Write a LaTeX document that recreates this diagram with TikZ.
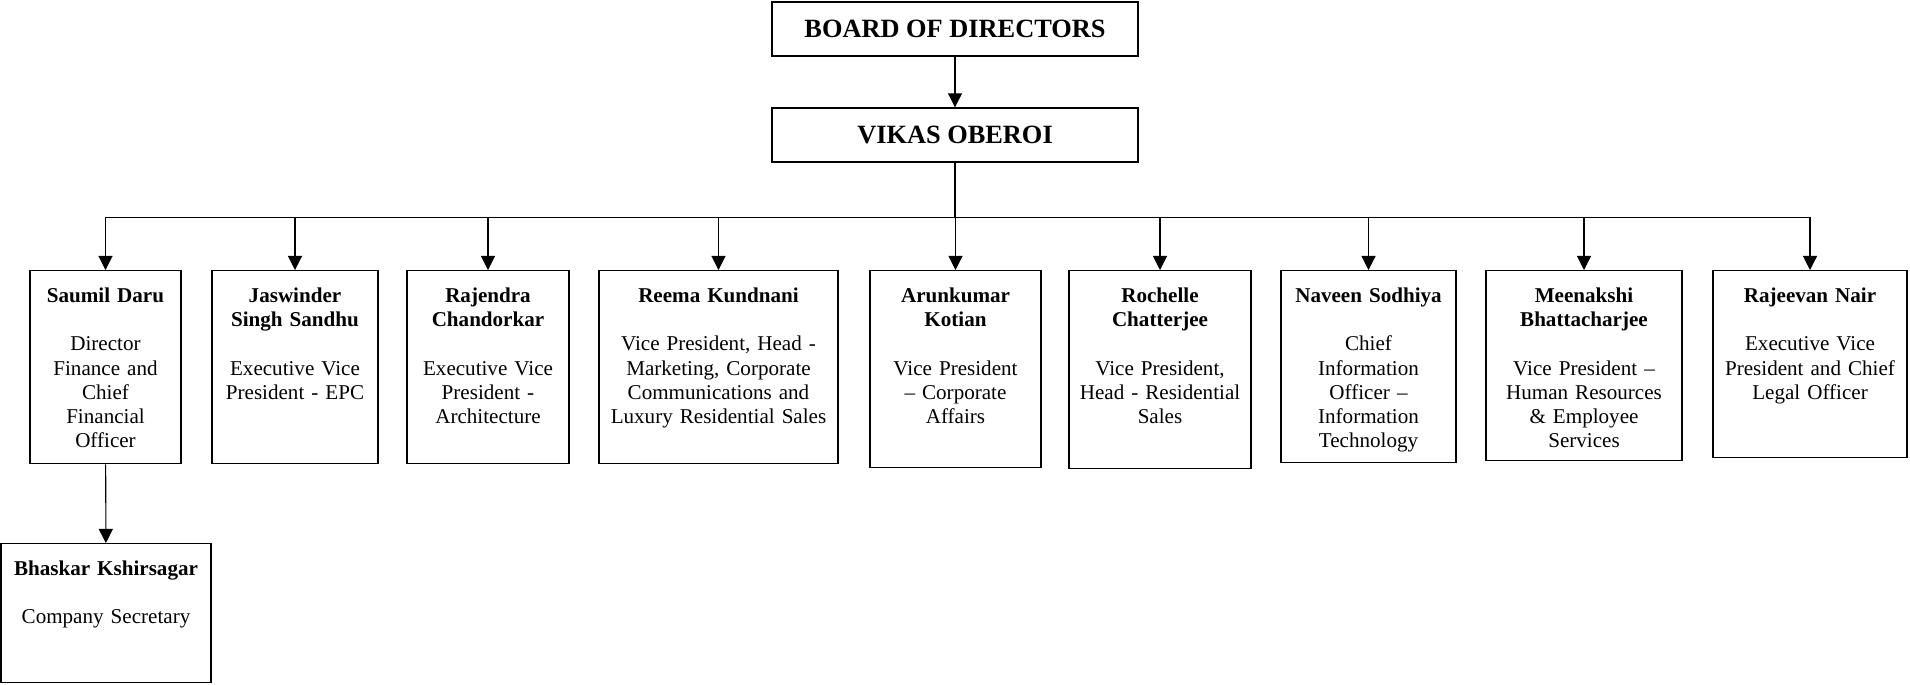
\documentclass[tikz,border=0pt]{standalone}
\usepackage{fontspec}
\setmainfont{Liberation Serif}
\usetikzlibrary{arrows.meta}

\tikzstyle{block}=[draw, line width=0.8pt, align=center]
\tikzstyle{head}=[block, minimum width=7.32cm, minimum height=1.08cm, font=\fontsize{15}{17}\selectfont\bfseries]
\tikzstyle{person}=[block, anchor=north, inner xsep=0pt, inner ysep=6pt, text height=12pt, font=\fontsize{12}{13.8}\selectfont]
\tikzstyle{link}=[line width=0.6pt, -{Triangle[length=8pt,width=8pt]}]

\begin{document}
\begin{tikzpicture}[x=0.02cm, y=-0.02cm]
    \useasboundingbox (0,0) rectangle (1910,684);

    \node[head] (board) at (955, 29)  {BOARD OF DIRECTORS};
    \node[head] (vikas) at (955, 135) {VIKAS OBEROI};

    \node[person, text width=3.02cm, text depth=85.8pt] (saumil)    at (105.5, 270) {\textbf{Saumil Daru}\\[13.8pt] Director\\ Finance and\\ Chief\\ Financial\\ Officer};
    \node[person, text width=3.32cm, text depth=85.8pt] (jaswinder) at (295, 270)   {\textbf{Jaswinder}\\ \textbf{Singh Sandhu}\\[13.8pt] Executive Vice\\ President - EPC};
    \node[person, text width=3.24cm, text depth=85.8pt] (rajendra)  at (488, 270)   {\textbf{Rajendra}\\ \textbf{Chandorkar}\\[13.8pt] Executive Vice\\ President -\\ Architecture};
    \node[person, text width=4.78cm, text depth=85.8pt] (reema)     at (718.5, 270) {\textbf{Reema Kundnani}\\[13.8pt] Vice President, Head -\\ Marketing, Corporate\\ Communications and\\ Luxury Residential Sales};
    \node[person, text width=3.42cm, text depth=88.1pt] (arunkumar) at (955.5, 270) {\textbf{Arunkumar}\\ \textbf{Kotian}\\[13.8pt] Vice President\\ – Corporate\\ Affairs};
    \node[person, text width=3.64cm, text depth=88.7pt] (rochelle)  at (1160, 270)  {\textbf{Rochelle}\\ \textbf{Chatterjee}\\[13.8pt] Vice President,\\ Head - Residential\\ Sales};
    \node[person, text width=3.50cm, text depth=85.2pt] (naveen)    at (1368.5, 270) {\textbf{Naveen Sodhiya}\\[13.8pt] Chief\\ Information\\ Officer –\\ Information\\ Technology};
    \node[person, text width=3.92cm, text depth=84.1pt] (meenakshi) at (1584, 270)  {\textbf{Meenakshi}\\ \textbf{Bhattacharjee}\\[13.8pt] Vice President –\\ Human Resources\\ \& Employee\\ Services};
    \node[person, text width=3.88cm, text depth=82.4pt] (rajeevan)  at (1810, 270)  {\textbf{Rajeevan Nair}\\[13.8pt] Executive Vice\\ President and Chief\\ Legal Officer};

    \node[person, text width=4.20cm, text depth=55.1pt] (bhaskar)   at (106, 543)   {\textbf{Bhaskar Kshirsagar}\\[13.8pt] Company Secretary};

    \draw[link] (board) -- (vikas);
    \foreach \n in {saumil,jaswinder,rajendra,reema,arunkumar,rochelle,naveen,meenakshi,rajeevan}
        \draw[link] (vikas.south) -- ++(0,55) -| (\n.north);
    \draw[link] (saumil) -- (bhaskar);
\end{tikzpicture}
\end{document}
